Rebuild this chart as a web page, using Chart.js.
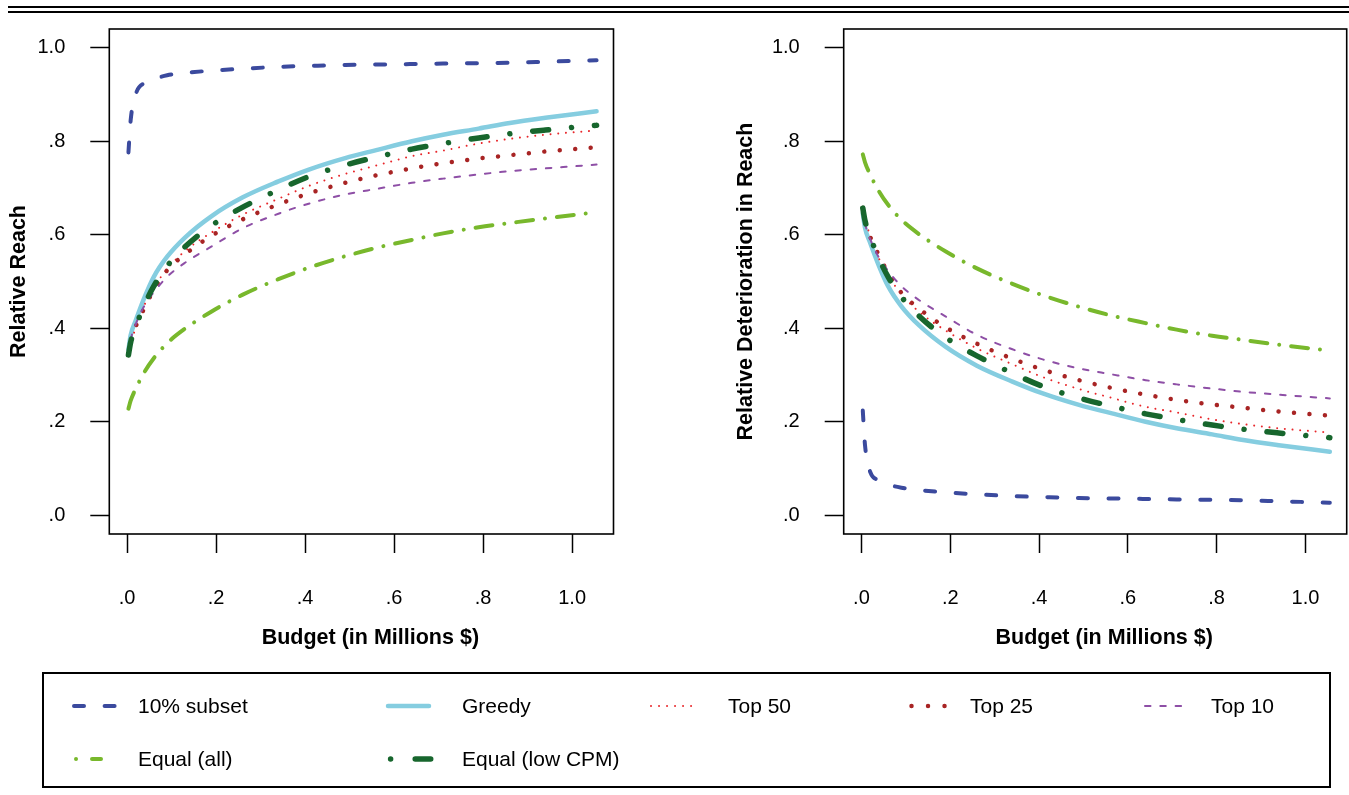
<!DOCTYPE html>
<html>
<head>
<meta charset="utf-8">
<script src="https://cdn.jsdelivr.net/npm/chart.js@4.4.1/dist/chart.umd.min.js"></script>
<style>
  body { margin: 0; background: #fff; width: 1349px; height: 795px; position: relative; overflow: hidden;
         font-family: "Liberation Sans", Arial, sans-serif; }
  .rule { position: absolute; left: 8px; width: 1341px; height: 2px; background: #000; }
  #c1 { position: absolute; left: 0; top: 0; }
  #c2 { position: absolute; left: 674px; top: 0; }
  #legendBox { position: absolute; left: 42px; top: 672px; width: 1289px; height: 116px;
               border: 2px solid #000; box-sizing: border-box; }
  #legendSvg { position: absolute; left: 0; top: 0; }
  .lg { position: absolute; font-size: 21px; line-height: 24px; color: #000; white-space: nowrap; }
</style>
</head>
<body>
<div class="rule" style="top:6px"></div>
<div class="rule" style="top:11px"></div>
<canvas id="c1" width="674" height="660"></canvas>
<canvas id="c2" width="675" height="660"></canvas>
<div id="legendBox"></div>
<svg id="legendSvg" width="1349" height="795"></svg>
<script>
// budget (in millions $) sampled along the curves
const budget = [0.003, 0.008, 0.02, 0.04, 0.06, 0.09, 0.13, 0.19, 0.26, 0.34, 0.41, 0.49, 0.56, 0.64, 0.71, 0.79, 0.86, 0.94, 1.055];

// left panel: relative reach
const reachSubset  = [0.776, 0.845, 0.902, 0.925, 0.933, 0.941, 0.946, 0.951, 0.955, 0.959, 0.961, 0.963, 0.964, 0.965, 0.966, 0.967, 0.968, 0.970, 0.973];
const reachGreedy  = [0.354, 0.385, 0.418, 0.468, 0.510, 0.553, 0.594, 0.640, 0.680, 0.714, 0.740, 0.764, 0.781, 0.800, 0.814, 0.827, 0.839, 0.850, 0.864];
const reachTop50   = [0.343, 0.370, 0.400, 0.452, 0.487, 0.527, 0.565, 0.605, 0.643, 0.677, 0.705, 0.730, 0.748, 0.768, 0.780, 0.795, 0.805, 0.814, 0.823];
const reachTop25   = [0.343, 0.370, 0.405, 0.445, 0.482, 0.524, 0.558, 0.598, 0.633, 0.665, 0.689, 0.711, 0.727, 0.742, 0.753, 0.763, 0.770, 0.778, 0.787];
const reachTop10   = [0.343, 0.375, 0.410, 0.450, 0.477, 0.510, 0.540, 0.575, 0.614, 0.645, 0.667, 0.686, 0.698, 0.711, 0.720, 0.729, 0.736, 0.742, 0.750];
const reachEqAll   = [0.228, 0.245, 0.272, 0.308, 0.336, 0.368, 0.399, 0.436, 0.472, 0.505, 0.530, 0.554, 0.572, 0.589, 0.603, 0.616, 0.625, 0.635, 0.648];
const reachEqLow   = [0.343, 0.370, 0.405, 0.452, 0.490, 0.533, 0.574, 0.620, 0.659, 0.696, 0.725, 0.749, 0.766, 0.783, 0.795, 0.807, 0.816, 0.824, 0.834];

// right panel: relative deterioration in reach
const detSubset = [0.224, 0.150, 0.092, 0.075, 0.066, 0.059, 0.054, 0.049, 0.045, 0.041, 0.039, 0.037, 0.036, 0.035, 0.034, 0.033, 0.032, 0.030, 0.027];
const detGreedy = [0.646, 0.615, 0.582, 0.532, 0.490, 0.447, 0.406, 0.360, 0.320, 0.286, 0.260, 0.236, 0.219, 0.200, 0.186, 0.173, 0.161, 0.150, 0.136];
const detTop50  = [0.657, 0.630, 0.600, 0.548, 0.513, 0.473, 0.435, 0.395, 0.357, 0.323, 0.295, 0.270, 0.252, 0.232, 0.220, 0.205, 0.195, 0.186, 0.177];
const detTop25  = [0.657, 0.630, 0.595, 0.555, 0.518, 0.476, 0.442, 0.402, 0.367, 0.335, 0.311, 0.289, 0.273, 0.258, 0.247, 0.237, 0.230, 0.222, 0.213];
const detTop10  = [0.657, 0.625, 0.590, 0.550, 0.523, 0.490, 0.460, 0.425, 0.386, 0.355, 0.333, 0.314, 0.302, 0.289, 0.280, 0.271, 0.264, 0.258, 0.250];
const detEqAll  = [0.772, 0.755, 0.728, 0.692, 0.664, 0.632, 0.601, 0.564, 0.528, 0.495, 0.470, 0.446, 0.428, 0.411, 0.397, 0.384, 0.375, 0.365, 0.352];
const detEqLow  = [0.657, 0.630, 0.595, 0.548, 0.510, 0.467, 0.426, 0.380, 0.341, 0.304, 0.275, 0.251, 0.234, 0.217, 0.205, 0.193, 0.184, 0.176, 0.166];

const xTicks = [0, 0.2, 0.4, 0.6, 0.8, 1.0];
const yTicks = [0, 0.2, 0.4, 0.6, 0.8, 1.0];
const seriesNames = ['10% subset', 'Greedy', 'Top 50', 'Top 25', 'Top 10', 'Equal (all)', 'Equal (low CPM)'];

// line styles, one per series (same order as names)
const styles = [
  { color: '#3b4a9e', width: 4,   dash: [10, 20.6] },
  { color: '#85cde0', width: 4.5, dash: [] },
  { color: '#e8262a', width: 2,   dash: [0.01, 7.7] },
  { color: '#a82424', width: 4.5, dash: [0.01, 15.5] },
  { color: '#8e4fa6', width: 2,   dash: [5.5, 9.8] },
  { color: '#78b82c', width: 4,   dash: [17, 12, 0.01, 12] },
  { color: '#17662d', width: 5.5, dash: [16, 23, 0.01, 23] }
];

Chart.defaults.font.family = '"Liberation Sans", Arial, sans-serif';
Chart.defaults.color = '#000';

const fmt = v => v.toFixed(1).replace(/^0/, '');

const boxPlugin = {
  id: 'box',
  afterDatasetsDraw(chart) {
    const { ctx, chartArea: a } = chart;
    ctx.save();
    ctx.strokeStyle = '#000';
    ctx.lineWidth = 1.6;
    ctx.strokeRect(a.left, a.top, a.right - a.left, a.bottom - a.top);
    ctx.restore();
  }
};

// drop the label overflow room so the plot box sits exactly where the layout padding puts it
function noPad(s) {
  s.paddingTop = 0; s.paddingBottom = 0; s.paddingLeft = 0; s.paddingRight = 0;
}

function makeChart(id, yTitle, series, yWidth, padRight, yTitlePad) {
  const ctx = document.getElementById(id).getContext('2d');
  const datasets = series.map((arr, i) => ({
    label: seriesNames[i],
    data: budget.map((x, k) => ({ x: x, y: arr[k] })),
    borderColor: styles[i].color,
    borderWidth: styles[i].width,
    borderDash: styles[i].dash,
    borderCapStyle: 'round',
    borderJoinStyle: 'round',
    pointRadius: 0,
    fill: false,
    cubicInterpolationMode: 'monotone',
    order: series.length - i
  }));

  return new Chart(ctx, {
    type: 'line',
    data: { datasets: datasets },
    plugins: [boxPlugin],
    options: {
      responsive: false,
      animation: false,
      events: [],
      layout: { padding: { top: 29, right: padRight, bottom: 0, left: 0 } },
      plugins: { legend: { display: false }, tooltip: { enabled: false } },
      scales: {
        x: {
          type: 'linear',
          min: -0.04,
          max: 1.093,
          afterBuildTicks: s => { s.ticks = xTicks.map(v => ({ value: v })); },
          afterFit: s => { s.height = 126; noPad(s); },
          grid: { drawOnChartArea: false, drawTicks: true, tickLength: 19, color: '#000', tickWidth: 1.5 },
          border: { display: false },
          ticks: { padding: 33, font: { size: 20 }, maxRotation: 0, callback: v => fmt(v) },
          title: {
            display: true,
            text: '   Budget (in Millions $)',
            font: { size: 21.5, weight: 'bold' },
            padding: { top: 0, bottom: 9 }
          }
        },
        y: {
          type: 'linear',
          min: -0.04,
          max: 1.04,
          afterBuildTicks: s => { s.ticks = yTicks.map(v => ({ value: v })); },
          afterFit: s => { s.width = yWidth; noPad(s); },
          grid: { drawOnChartArea: false, drawTicks: true, tickLength: 19, color: '#000', tickWidth: 1.5 },
          border: { display: false },
          ticks: { padding: 25, font: { size: 20 }, callback: v => fmt(v) },
          title: {
            display: true,
            text: yTitle,
            font: { size: 21.5, weight: 'bold' },
            padding: { top: yTitlePad, bottom: 0 }
          }
        }
      }
    }
  });
}

makeChart('c1', 'Relative Reach',
  [reachSubset, reachGreedy, reachTop50, reachTop25, reachTop10, reachEqAll, reachEqLow], 109.3, 60.5, 6.6);
makeChart('c2', 'Relative Deterioration in Reach',
  [detSubset, detGreedy, detTop50, detTop25, detTop10, detEqAll, detEqLow], 169.7, 2.3, 59);

// legend: sample segments and labels
const legendItems = [
  { s: 0, x1: 74,    x2: 118,   y: 706, dash: '10 20.6',          tx: 138, ty: 694 },
  { s: 1, x1: 388,   x2: 429,   y: 706, dash: '',                 tx: 462, ty: 694 },
  { s: 2, x1: 651,   x2: 692,   y: 706, dash: '0.01 8',           tx: 728, ty: 694 },
  { s: 3, x1: 911.5, x2: 945,   y: 706, dash: '0.01 16.5',        tx: 970, ty: 694 },
  { s: 4, x1: 1145,  x2: 1183,  y: 706, dash: '5.5 9.8',          tx: 1211, ty: 694 },
  { s: 5, x1: 76,    x2: 101,   y: 759, dash: '0.01 16 9 100',    tx: 138, ty: 747 },
  { s: 6, x1: 390.6, x2: 431,   y: 759, dash: '0.01 24.6 15.5 100', tx: 462, ty: 747 }
];
const svg = document.getElementById('legendSvg');
legendItems.forEach(it => {
  const st = styles[it.s];
  const ln = document.createElementNS('http://www.w3.org/2000/svg', 'line');
  ln.setAttribute('x1', it.x1); ln.setAttribute('x2', it.x2);
  ln.setAttribute('y1', it.y);  ln.setAttribute('y2', it.y);
  ln.setAttribute('stroke', st.color);
  ln.setAttribute('stroke-width', st.width);
  ln.setAttribute('stroke-linecap', 'round');
  if (it.dash) ln.setAttribute('stroke-dasharray', it.dash);
  svg.appendChild(ln);
  const t = document.createElement('div');
  t.className = 'lg';
  t.style.left = it.tx + 'px';
  t.style.top = it.ty + 'px';
  t.textContent = seriesNames[it.s];
  document.body.appendChild(t);
});
</script>
</body>
</html>
